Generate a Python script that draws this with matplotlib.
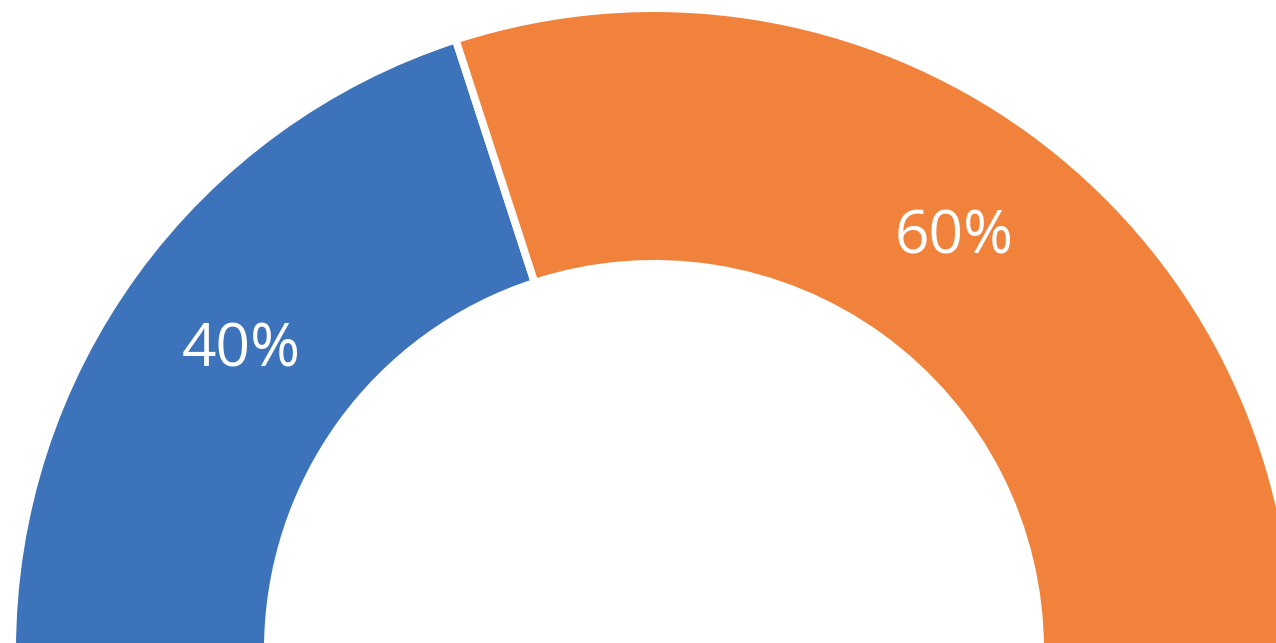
import matplotlib
matplotlib.use("Agg")
import matplotlib.pyplot as plt
import numpy as np

labels = ["40%", "60%"]
values = [40, 60]
colors = ["#3D73BA", "#F1823C"]

W, H = 1276, 643
fig = plt.figure(figsize=(W / 100, H / 100), dpi=100)
ax = fig.add_axes([0, 0, 1, 1])

cx, cy = 654, -7
R = 641.8
ring = 255.6

# hidden bottom half equals the sum of the visible parts
data = values + [sum(values)]
wedges, texts = ax.pie(
    data,
    colors=colors + ["none"],
    startangle=180,
    counterclock=False,
    radius=R,
    center=(cx, cy),
    labels=labels + [""],
    labeldistance=510 / R,
    wedgeprops=dict(width=ring, edgecolor="white", linewidth=5.5),
    frame=True,
)
wedges[-1].set_edgecolor("none")
for t in texts:
    t.set_ha("center")
    t.set_va("center")
    t.set_color("white")
    t.set_fontsize(43.5)
    t.set_fontfamily("Open Sans")

ax.set_xlim(0, W)
ax.set_ylim(0, H)
ax.set_aspect("equal")
ax.axis("off")
fig.savefig("out.png", dpi=100)
